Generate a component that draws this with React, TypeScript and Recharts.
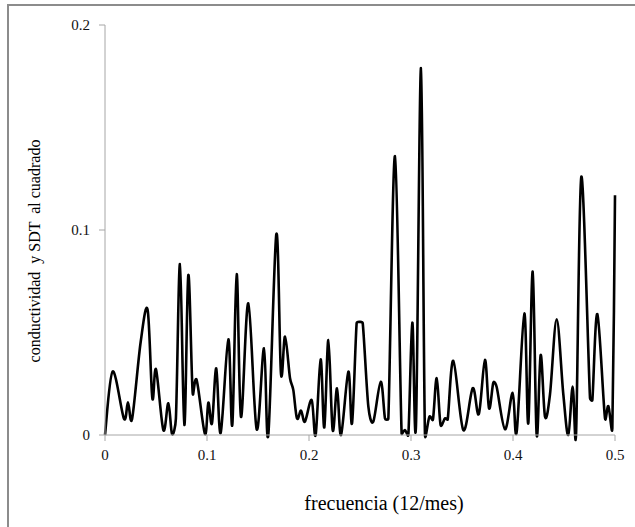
import { LineChart, Line, XAxis, YAxis } from 'recharts';

const F = '"Liberation Serif", "Times New Roman", serif';

// frecuencia (ciclos por 12 meses) y valores
const freq = [
  0, 0.0075, 0.0186, 0.0225, 0.0265, 0.035, 0.0418, 0.0464, 0.05, 0.0572,
  0.0621, 0.0657, 0.0695, 0.0735, 0.0778, 0.0817, 0.086, 0.0899, 0.098, 0.1013,
  0.1049, 0.1091, 0.1134, 0.1209, 0.1248, 0.1291, 0.1333, 0.1405, 0.1487, 0.1559,
  0.1601, 0.168, 0.1725, 0.1765, 0.1814, 0.1846, 0.1882, 0.1922, 0.196, 0.2026,
  0.2065, 0.2114, 0.215, 0.219, 0.2232, 0.2275, 0.2314, 0.2386, 0.2422, 0.2467,
  0.2497, 0.2527, 0.2582, 0.263, 0.2703, 0.2745, 0.2778, 0.2843, 0.2908, 0.294,
  0.2974, 0.3013, 0.3049, 0.3098, 0.3137, 0.318, 0.3215, 0.3252, 0.329, 0.3333,
  0.336, 0.3415, 0.3513, 0.3605, 0.3665, 0.3725, 0.3765, 0.3807, 0.384, 0.3922,
  0.3997, 0.4036, 0.4111, 0.415, 0.4193, 0.4232, 0.4271, 0.4314, 0.4363, 0.4428,
  0.4493, 0.4542, 0.4585, 0.4618, 0.467, 0.4755, 0.4778, 0.4827, 0.4902, 0.4935,
  0.4974, 0.5,
];

const coherencia = [
  0, 0.031, 0.008, 0.016, 0.0077, 0.0455, 0.061, 0.018, 0.032, 0.0024,
  0.0155, 0.0005, 0.008, 0.0834, 0.0049, 0.078, 0.0203, 0.0268, 0.0005, 0.0158,
  0.0057, 0.0325, 0.001, 0.0467, 0.0049, 0.0785, 0.0089, 0.0642, 0.0028, 0.0423,
  0, 0.098, 0.0301, 0.048, 0.0277, 0.022, 0.0081, 0.0119, 0.0065, 0.0171,
  0, 0.0369, 0.0037, 0.0463, 0.0024, 0.0228, 0, 0.0309, 0.0057, 0.0545,
  0.0552, 0.0545, 0.0138, 0.0065, 0.026, 0.0081, 0.0081, 0.136, 0.0008, 0.0024,
  0, 0.0548, 0.0049, 0.179, 0, 0.0089, 0.0075, 0.0277, 0.0049, 0.0081,
  0.0076, 0.0362, 0.0024, 0.0228, 0.0102, 0.0366, 0.013, 0.0255, 0.0234, 0.0028,
  0.0206, 0.0015, 0.0593, 0.0057, 0.0797, 0, 0.039, 0.0089, 0.02, 0.0564,
  0.02, 0, 0.0236, 0, 0.126, 0.0179, 0.017, 0.059, 0.0081, 0.0141,
  0.0033, 0.117,
];

const xTicks = [0, 0.1, 0.2, 0.3, 0.4, 0.5];
const yTicks = [0, 0.1, 0.2];

const data = freq.map((f, i) => ({ f, v: coherencia[i] }));

// suavizado tipo Excel: Catmull-Rom con el brazo de control limitado
// a la mitad del segmento, para no pasarse tanto junto a los picos
const limit = (dx: number, dy: number, max: number) => {
  const len = Math.hypot(dx, dy);
  if (len <= max || len === 0) return [dx, dy];
  return [(dx * max) / len, (dy * max) / len];
};

const smoothCurve = (context: any) => {
  let pts: number[][] = [];
  return {
    areaStart() {},
    areaEnd() {},
    lineStart() {
      pts = [];
    },
    lineEnd() {
      const n = pts.length;
      if (!n) return;
      context.moveTo(pts[0][0], pts[0][1]);
      for (let i = 0; i < n - 1; i++) {
        const p0 = pts[Math.max(i - 1, 0)];
        const p1 = pts[i];
        const p2 = pts[i + 1];
        const p3 = pts[Math.min(i + 2, n - 1)];
        const half = Math.hypot(p2[0] - p1[0], p2[1] - p1[1]) / 2;
        const a = limit((p2[0] - p0[0]) / 6, (p2[1] - p0[1]) / 6, half);
        const b = limit((p3[0] - p1[0]) / 6, (p3[1] - p1[1]) / 6, half);
        context.bezierCurveTo(p1[0] + a[0], p1[1] + a[1], p2[0] - b[0], p2[1] - b[1], p2[0], p2[1]);
      }
    },
    point(x: number, y: number) {
      pts.push([+x, +y]);
    },
  };
};

const YTitle = () => (
  <text
    x={34}
    y={251}
    transform="rotate(-90 34 251)"
    textAnchor="middle"
    dominantBaseline="central"
    style={{ fontFamily: F, fontSize: 16, fill: '#000', whiteSpace: 'pre' }}
  >
    {'conductividad  y SDT  al cuadrado'}
  </text>
);

const XTitle = () => (
  <text
    x={384}
    y={503}
    textAnchor="middle"
    dominantBaseline="central"
    style={{ fontFamily: F, fontSize: 20, fill: '#000' }}
  >
    frecuencia (12/mes)
  </text>
);

export default function App() {
  return (
    <div style={{ position: 'absolute', left: 0, top: 0, width: 635, height: 527, overflow: 'hidden', background: '#fff' }}>
      <div
        style={{
          position: 'absolute',
          left: 7,
          top: 4,
          width: 700,
          height: 600,
          border: '2px solid #8c8c8c',
          boxSizing: 'border-box',
        }}
      />
      <LineChart
        width={635}
        height={527}
        data={data}
        margin={{ top: 25, right: 20, bottom: 62, left: 0 }}
        style={{ position: 'absolute', left: 0, top: 0 }}
      >
        <XAxis
          dataKey="f"
          type="number"
          domain={[0, 0.5]}
          ticks={xTicks}
          height={30}
          stroke="#a6a6a6"
          tickSize={6}
          tickMargin={8}
          tick={{ fontFamily: F, fontSize: 15, fill: '#111' }}
          label={<XTitle />}
        />
        <YAxis
          type="number"
          domain={[0, 0.2]}
          ticks={yTicks}
          width={105}
          stroke="#a6a6a6"
          tickSize={6}
          tickMargin={9}
          tick={{ fontFamily: F, fontSize: 15, fill: '#111' }}
          label={<YTitle />}
        />
        <Line
          dataKey="v"
          type={smoothCurve as any}
          stroke="#000"
          strokeWidth={2.6}
          dot={false}
          isAnimationActive={false}
        />
      </LineChart>
    </div>
  );
}
